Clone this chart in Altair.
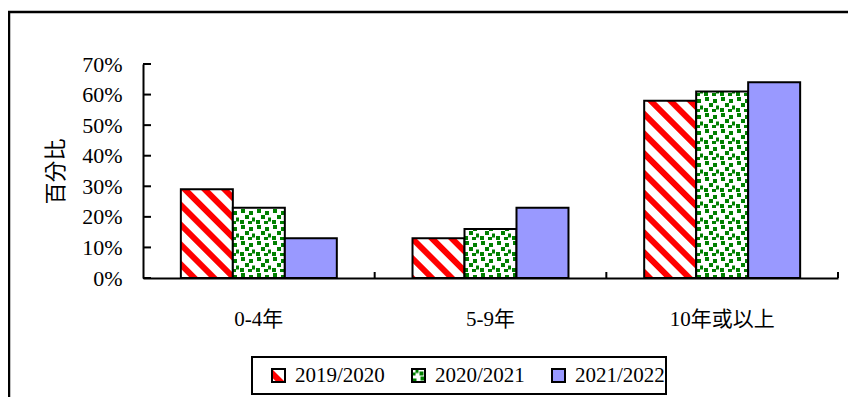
import sys
import altair as alt
import pandas as pd

# ---------------- data ----------------
categories = ["0-4年", "5-9年", "10年或以上"]
years = ["2019/2020", "2020/2021", "2021/2022"]
v2019 = [29, 13, 58]
v2020 = [23, 16, 61]
v2021 = [13, 23, 64]
ytick_values = [0, 10, 20, 30, 40, 50, 60, 70]

rows = []
for i, c in enumerate(categories):
    for yr, vals in zip(years, [v2019, v2020, v2021]):
        rows.append({"cat": c, "year": yr, "value": vals[i] / 100})
df = pd.DataFrame(rows)
ydf = pd.DataFrame({"value": [t / 100 for t in ytick_values]})
xdf = pd.DataFrame({"cat": categories})
one = pd.DataFrame({"k": [0]})

# ---------------- SVG pattern definitions ----------------
DEFS = (
    '<svg width="0" height="0" style="position:absolute;left:0;top:0">'
    '<defs>'
    '<pattern id="pstripe" patternUnits="userSpaceOnUse" width="14" height="14" '
    'patternTransform="rotate(45)">'
    '<rect x="0" y="0" width="14" height="14" fill="#ffffff"/>'
    '<rect x="0" y="0" width="14" height="6" fill="#ff0000"/>'
    '</pattern>'
    '<pattern id="pdots" patternUnits="userSpaceOnUse" width="16" height="16">'
    '<rect x="0" y="0" width="16" height="16" fill="#ffffff"/>'
    '<rect x="2" y="1" width="4" height="4" fill="#008000"/>'
    '<rect x="10" y="3" width="4" height="4" fill="#008000"/>'
    '<rect x="6" y="7" width="4" height="4" fill="#008000"/>'
    '<rect x="13" y="9.5" width="4" height="4" fill="#008000"/>'
    '<rect x="1" y="12" width="4" height="4" fill="#008000"/>'
    '<rect x="9" y="13" width="4" height="4" fill="#008000"/>'
    '</pattern>'
    '</defs></svg>'
)


def _inject(html):
    if not isinstance(html, str) or DEFS in html:
        return html
    if "<body>" in html:
        return html.replace("<body>", "<body>" + DEFS, 1)
    if '<div id="vis"' in html:
        return html.replace('<div id="vis"', DEFS + '<div id="vis"', 1)
    return html


def _patch_all():
    for name, mod in list(sys.modules.items()):
        if not name.startswith("altair") or mod is None:
            continue
        fn = getattr(mod, "spec_to_html", None)
        if callable(fn) and not getattr(fn, "_patched", False):
            def make(f):
                def w(*a, **k):
                    return _inject(f(*a, **k))
                w._patched = True
                return w
            try:
                setattr(mod, "spec_to_html", make(fn))
            except Exception:
                pass
        fn = getattr(mod, "write_file_or_filename", None)
        if callable(fn) and not getattr(fn, "_patched", False):
            def make2(f):
                def w(fp, content, *a, **k):
                    if isinstance(content, str) and "<html" in content:
                        content = _inject(content)
                    return f(fp, content, *a, **k)
                w._patched = True
                return w
            try:
                setattr(mod, "write_file_or_filename", make2(fn))
            except Exception:
                pass


try:
    import altair.utils.save  # noqa: F401
    import altair.utils.html  # noqa: F401
except Exception:
    pass
_patch_all()

# ---------------- chart ----------------
W, H = 695, 214
FONT = "'Liberation Serif', 'Times New Roman', 'Noto Sans CJK TC', serif"
CJK = "'Noto Sans CJK TC', 'Noto Sans CJK SC', sans-serif"

xscale = alt.Scale(domain=categories, paddingInner=0, paddingOuter=0)
yscale = alt.Scale(domain=[0, 0.7], nice=False, zero=True)

x_axis = alt.Axis(
    title=None,
    labelAngle=0,
    ticks=False,
    tickSize=0,
    labelPadding=30,
    labelFontSize=21,
    labelFont=FONT,
    labelColor="black",
    domainColor="black",
    domainWidth=2,
)
y_axis = alt.Axis(
    format=".0%",
    values=[t / 100 for t in ytick_values],
    title="百分比",
    titleFont=CJK,
    titleFontSize=22,
    titleFontWeight="normal",
    titleColor="black",
    titlePadding=14,
    ticks=False,
    tickSize=0,
    labelPadding=21,
    labelFontSize=22,
    labelFont=FONT,
    labelColor="black",
    domainColor="black",
    domainWidth=2,
    grid=False,
)

border = alt.Chart(one).mark_rect(filled=False, stroke="black", strokeWidth=2.5).encode(
    x=alt.value(-134), x2=alt.value(780), y=alt.value(-52), y2=alt.value(420)
)

legend_box = alt.Chart(one).mark_rect(filled=False, stroke="black", strokeWidth=2).encode(
    x=alt.value(109), x2=alt.value(523), y=alt.value(293), y2=alt.value(330)
)

bars = alt.Chart(df).mark_bar(stroke="black", strokeWidth=2).encode(
    x=alt.X("cat:N", scale=xscale, sort=categories, axis=x_axis),
    xOffset=alt.XOffset(
        "year:N", sort=years, scale=alt.Scale(domain=years, paddingInner=0, paddingOuter=0.728)
    ),
    y=alt.Y("value:Q", scale=yscale, axis=y_axis),
    fill=alt.Fill(
        "year:N",
        sort=years,
        scale=alt.Scale(domain=years, range=["url(#pstripe)", "url(#pdots)", "#9999ff"]),
        legend=alt.Legend(
            title=None,
            orient="none",
            legendX=125,
            legendY=301,
            direction="horizontal",
            symbolType="square",
            symbolSize=169,
            symbolStrokeColor="black",
            symbolStrokeWidth=2,
            symbolOpacity=1,
            labelFont=FONT,
            labelFontSize=21,
            labelColor="black",
            labelOffset=6,
            columnPadding=23,
            padding=0,
        ),
    ),
)

ytk = alt.Chart(ydf).mark_rule(color="black", strokeWidth=2).encode(
    y=alt.Y("value:Q", scale=yscale, axis=y_axis), x=alt.value(0), x2=alt.value(8)
)

xtk = alt.Chart(xdf).mark_rule(color="black", strokeWidth=2).encode(
    x=alt.X("cat:N", scale=xscale, sort=categories, bandPosition=1, axis=x_axis),
    y=alt.value(H),
    y2=alt.value(H - 6),
)

chart = (
    alt.layer(border, legend_box, bars, ytk, xtk)
    .properties(
        width=W,
        height=H,
        padding={"left": 135, "top": 56, "right": 10, "bottom": 119},
        autosize=alt.AutoSizeParams(type="none"),
        background="white",
    )
    .configure_view(stroke=None)
)

_patch_all()
chart.save("out.html", embed_options={"renderer": "svg", "actions": False})
